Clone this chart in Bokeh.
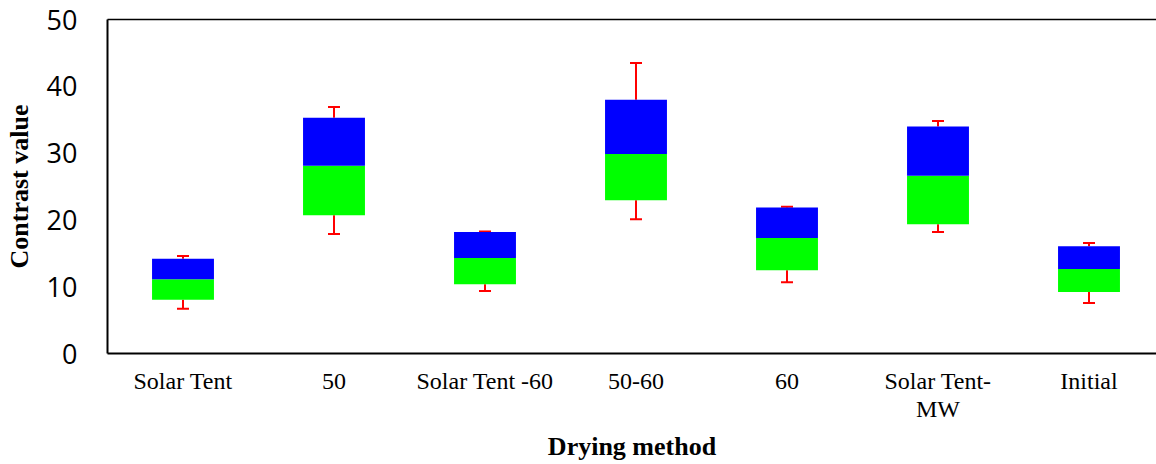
from bokeh.plotting import figure
from bokeh.models import (ColumnDataSource, FixedTicker, LinearAxis, Range1d,
                          Whisker, TeeHead)
from bokeh.embed import file_html
from bokeh.resources import INLINE

# ---- data ----
categories = ["Solar Tent", "50", "Solar Tent -60", "50-60", "60",
              "Solar Tent-\nMW", "Initial"]
q1 = [8.05, 20.7, 10.35, 22.95, 12.45, 19.35, 9.2]
median = [11.1, 28.1, 14.3, 29.85, 17.3, 26.6, 12.65]
q3 = [14.2, 35.3, 18.2, 38.0, 21.85, 34.0, 16.05]
whisker_max = [14.6, 36.9, 18.25, 43.5, 21.95, 34.8, 16.55]
whisker_min = [6.7, 17.9, 9.35, 20.1, 10.65, 18.2, 7.55]
y_ticks = [0, 10, 20, 30, 40, 50]

xs = list(range(len(categories)))
src = ColumnDataSource(dict(x=xs, q1=q1, med=median, q3=q3,
                            wmax=whisker_max, wmin=whisker_min))

p = figure(width=1156, height=464, output_backend="svg", toolbar_location=None,
           x_range=Range1d(-0.5, -0.5 + 1049 / 151), y_range=Range1d(0, 50),
           min_border_left=107, min_border_right=0, min_border_top=19,
           min_border_bottom=10)
p.outline_line_color = None
p.xgrid.visible = False
p.ygrid.visible = False

# whiskers
up = Whisker(source=src, base="x", lower="q3", upper="wmax", dimension="height",
             line_color="#FF0000", line_width=2,
             upper_head=TeeHead(size=12, line_color="#FF0000", line_width=2),
             lower_head=None)
lo = Whisker(source=src, base="x", lower="wmin", upper="q1", dimension="height",
             line_color="#FF0000", line_width=2,
             lower_head=TeeHead(size=12, line_color="#FF0000", line_width=2),
             upper_head=None)
p.add_layout(up)
p.add_layout(lo)

# boxes
p.vbar(x="x", width=0.41, bottom="q1", top="med", source=src,
       fill_color="#00FF00", line_color=None)
p.vbar(x="x", width=0.41, bottom="med", top="q3", source=src,
       fill_color="#0000FF", line_color=None)

# x axis
xa = p.xaxis[0]
xa.ticker = FixedTicker(ticks=xs)
xa.major_label_overrides = {x: c for x, c in zip(xs, categories)}
xa.major_tick_out = 0
xa.major_tick_in = 0
xa.minor_tick_out = 0
xa.minor_tick_in = 0
xa.axis_line_width = 2
xa.axis_line_color = "black"
xa.major_label_text_font = "Liberation Serif"
xa.major_label_text_font_size = "24px"
xa.major_label_text_color = "black"
xa.major_label_text_line_height = 1.1
xa.major_label_standoff = 14
xa.axis_label = "Drying method"
xa.axis_label_text_font = "Liberation Serif"
xa.axis_label_text_font_style = "bold"
xa.axis_label_text_font_size = "26px"
xa.axis_label_text_color = "black"
xa.axis_label_standoff = 7

# y axis
ya = p.yaxis[0]
ya.ticker = FixedTicker(ticks=y_ticks)
ya.major_tick_out = 0
ya.major_tick_in = 0
ya.minor_tick_out = 0
ya.minor_tick_in = 0
ya.axis_line_width = 2
ya.axis_line_color = "black"
ya.major_label_text_font = "Open Sans"
ya.major_label_text_font_size = "27px"
ya.major_label_text_color = "black"
ya.major_label_standoff = 30
ya.axis_label = "Contrast value"
ya.axis_label_text_font = "Liberation Serif"
ya.axis_label_text_font_style = "bold"
ya.axis_label_text_font_size = "26px"
ya.axis_label_text_color = "black"
ya.axis_label_standoff = 10

# top frame line
top = LinearAxis(ticker=FixedTicker(ticks=[]), major_tick_out=0, major_tick_in=0,
                 minor_tick_out=0, minor_tick_in=0, major_label_standoff=0,
                 axis_line_width=1.5, axis_line_color="black",
                 major_label_text_font_size="0px")
p.add_layout(top, "above")

open("out.html", "w").write(file_html(p, INLINE))
